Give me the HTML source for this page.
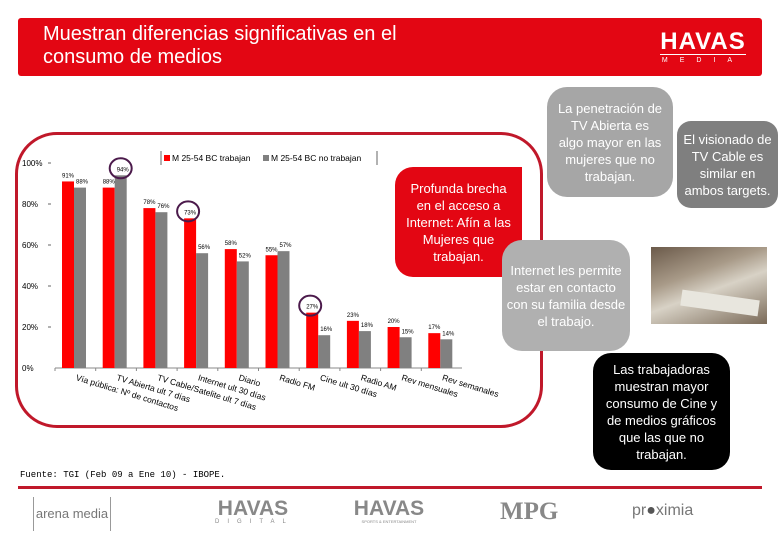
<!DOCTYPE html>
<html><head><meta charset="utf-8"><style>
body{margin:0;width:780px;height:540px;overflow:hidden;background:#fff;font-family:"Liberation Sans",sans-serif;position:relative}
.abs{position:absolute}
.box{position:absolute;color:#fff;text-align:center;font-size:13px;line-height:17px;display:flex;align-items:center;justify-content:center;box-sizing:border-box;padding:2px 10px}
</style></head><body>
<div class="abs" style="left:18px;top:18px;width:744px;height:58px;background:#e30613;border-radius:3px"></div>
<div class="abs" style="left:43px;top:23px;color:#fff;font-size:20px;line-height:23px">Muestran diferencias significativas en el<br>consumo de medios</div>
<div class="abs" style="left:660px;top:30px;width:86px;color:#fff;text-align:center"><div style="font-size:24px;font-weight:bold;line-height:24px;letter-spacing:1px;border-bottom:1px solid #fff">HAVAS</div><div style="font-size:7px;letter-spacing:12px;margin-top:2px">MEDIA</div></div>

<div class="abs" style="left:15px;top:132px;width:528px;height:296px;border:3px solid #c0182a;border-radius:42px;box-sizing:border-box"></div>

<svg class="abs" style="left:0;top:0" width="560" height="440" id="chart"></svg>

<div class="box" style="left:395px;top:167px;width:127px;height:110px;background:#e30613;border-radius:18px 0 18px 18px;padding:2px 8px">Profunda brecha en el acceso a Internet: Afín a las Mujeres que trabajan.</div>
<div class="box" style="left:547px;top:87px;width:126px;height:110px;background:#a6a6a6;border-radius:20px">La penetración de TV Abierta es algo mayor en las mujeres que no trabajan.</div>
<div class="box" style="left:677px;top:121px;width:101px;height:87px;background:#7f7f7f;border-radius:14px;padding:2px 5px">El visionado de TV Cable es similar en ambos targets.</div>
<div class="box" style="left:502px;top:240px;width:128px;height:111px;background:#b0b0b0;border-radius:20px;padding:2px 4px">Internet les permite estar en contacto con su familia desde el trabajo.</div>
<div class="abs" style="left:651px;top:247px;width:116px;height:77px;background:linear-gradient(160deg,#6b5a4a 0%,#a89a88 35%,#d8d2c6 55%,#7a6a58 100%)"><div style="position:absolute;left:30px;top:48px;width:78px;height:16px;background:#e8e6de;transform:rotate(8deg)"></div></div>
<div class="box" style="left:593px;top:353px;width:137px;height:117px;background:#000;border-radius:18px;padding:2px 12px">Las trabajadoras muestran mayor consumo de Cine y de medios gráficos que las que no trabajan.</div>

<div class="abs" style="left:20px;top:470px;font-family:'Liberation Mono',monospace;font-size:9px">Fuente: TGI (Feb 09 a Ene 10) - IBOPE.</div>
<div class="abs" style="left:18px;top:486px;width:744px;height:3px;background:#c0182a"></div>
<div class="abs" style="left:33px;top:497px;width:76px;height:34px;border-left:1px solid #999;border-right:1px solid #999;color:#777;font-size:13px;line-height:34px;text-align:center;white-space:nowrap">arena media</div>
<div class="abs" style="left:215px;top:498px;width:76px;text-align:center;color:#888"><div style="font-size:21px;font-weight:bold;line-height:21px">HAVAS</div><div style="font-size:6px;letter-spacing:8px">DIGITAL</div></div>
<div class="abs" style="left:350px;top:498px;width:78px;text-align:center;color:#888"><div style="font-size:21px;font-weight:bold;line-height:21px">HAVAS</div><div style="font-size:4px">SPORTS &amp; ENTERTAINMENT</div></div>
<div class="abs" style="left:500px;top:498px;color:#888;font-family:'Liberation Serif',serif;font-weight:bold;font-size:25px">MPG</div>
<div class="abs" style="left:632px;top:502px;color:#777;font-size:16px">pr<span style="color:#555">●</span>ximia</div>

<script>
const categories=["Vía pública: Nº de contactos","TV Abierta ult 7 días","TV Cable/Satelite ult 7 días","Internet ult 30 días","Diario","Radio FM","Cine ult 30 días","Radio AM","Rev mensuales","Rev semanales"];
const seriesTrabajan=[91,88,78,73,58,55,27,23,20,17];
const seriesNoTrabajan=[88,94,76,56,52,57,16,18,15,14];
const yTicks=[0,20,40,60,80,100];
const yTickLabels=["0%","20%","40%","60%","80%","100%"];
const circled=[[1,1],[3,0],[6,0]];
const svg=document.getElementById('chart');
const NS='http://www.w3.org/2000/svg';
const X0=55,X1=462,Y0=368,Y100=163;
const step=(X1-X0)/categories.length;
const y=v=>Y0-(Y0-Y100)*v/100;
const xc=i=>X0+step*i;
function mk(t,a){const e=document.createElementNS(NS,t);for(const k in a)e.setAttribute(k,a[k]);svg.appendChild(e);return e;}
yTicks.forEach((t,i)=>{
 const tx=mk('text',{x:22,y:y(t)+3,'font-size':8,'font-family':'Liberation Sans'});
 
 
 tx.textContent=yTickLabels[i];
 if(t>0){const l=mk('line',{x1:48,x2:51,y1:y(t),y2:y(t),stroke:'#666'});
 
 }
});
const ax=mk('line',{x1:X0,x2:X1,y1:Y0,y2:Y0,stroke:'#888'});


const bw=12;
categories.forEach((c,i)=>{
 const x=xc(i)+7;
 const r=mk('rect',{x:x,y:y(seriesTrabajan[i]),width:bw,height:Y0-y(seriesTrabajan[i]),fill:'#ff0000'});
 
 
 const g=mk('rect',{x:x+bw,y:y(seriesNoTrabajan[i]),width:bw,height:Y0-y(seriesNoTrabajan[i]),fill:'#808080'});
 
 
 const l1=mk('text',{x:x,y:y(seriesTrabajan[i])-4,'font-size':6,'font-family':'Liberation Sans'});
 
 
 l1.textContent=seriesTrabajan[i]+'%';
 const l2=mk('text',{x:x+bw+2,y:y(seriesNoTrabajan[i])-4,'font-size':6,'font-family':'Liberation Sans'});
 
 
 l2.textContent=seriesNoTrabajan[i]+'%';
 const tk=mk('line',{x1:xc(i),x2:xc(i),y1:Y0,y2:Y0+3,stroke:'#888'});
 
 
 const cx=xc(i)+step*0.5, cy=Y0+12;
 const t=mk('text',{x:cx,y:cy,'font-size':8.5,'font-family':'Liberation Sans',transform:`rotate(17 ${cx} ${cy})`,'text-anchor':'start'});
 
 
 t.textContent=c;
});
circled.forEach(([i,s])=>{
 const v=s?seriesNoTrabajan[i]:seriesTrabajan[i];
 const cx=xc(i)+7+(s?bw+6:4);
 const e=mk('ellipse',{cx:cx,cy:y(v)-7,rx:11,ry:10,fill:'none',stroke:'#4b1a4b','stroke-width':2});
 
 
});
const lg=mk('line',{x1:161,x2:161,y1:151,y2:165,stroke:'#666'});


const lg2=mk('line',{x1:377,x2:377,y1:151,y2:165,stroke:'#666'});


const s1=mk('rect',{x:164,y:155,width:6,height:6,fill:'#ff0000'});


const t1=mk('text',{x:172,y:161,'font-size':8.5,'font-family':'Liberation Sans'});


t1.textContent='M 25-54 BC trabajan';
const s2=mk('rect',{x:263,y:155,width:6,height:6,fill:'#808080'});


const t2=mk('text',{x:271,y:161,'font-size':8.5,'font-family':'Liberation Sans'});


t2.textContent='M 25-54 BC no trabajan';
</script>
</body></html>
